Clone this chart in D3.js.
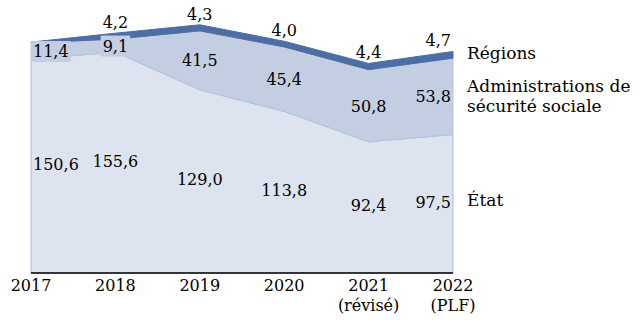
<!DOCTYPE html>
<html>
<head>
<meta charset="utf-8">
<script src="https://cdn.jsdelivr.net/npm/d3@7"></script>
<style>
  body { margin: 0; background: #fff; }
  text { font-family: "DejaVu Serif", serif; fill: #000; }
</style>
</head>
<body>
<svg width="642" height="329"></svg>
<script>
// data
var years = ["2017", "2018", "2019", "2020", "2021", "2022"];
var yearSub = ["", "", "", "", "(révisé)", "(PLF)"];
var etat = [150.6, 155.6, 129.0, 113.8, 92.4, 97.5];
var secu = [11.4, 9.1, 41.5, 45.4, 50.8, 53.8];
var regions = [0.6, 4.2, 4.3, 4.0, 4.4, 4.7];
var regionLabels = [null, "4,2", "4,3", "4,0", "4,4", "4,7"];
var seriesNames = ["État", "Administrations de|sécurité sociale", "Régions"];

var svg = d3.select("svg"),
    width = +svg.attr("width"),
    height = +svg.attr("height");

var colors = ["#dde4ef", "#c4cee2", "#4d6da4"];
var strokes = ["#a9badb", "#b3c2dd", "#4d6da4"];

// scales
var x = d3.scalePoint().domain(years).range([31, 453]);
var y = d3.scaleLinear().domain([0, 180]).range([273, 17.4]);

// stack
var table = years.map(function(d, i) {
  return {year: d, etat: etat[i], secu: secu[i], regions: regions[i]};
});
var keys = ["etat", "secu", "regions"];
var stacked = d3.stack().keys(keys)(table);

var area = d3.area()
    .x(function(d) { return x(d.data.year); })
    .y0(function(d) { return y(d[0]); })
    .y1(function(d) { return y(d[1]); });

svg.append("g").selectAll("path")
    .data(stacked)
  .enter().append("path")
    .attr("d", area)
    .attr("fill", function(d, i) { return colors[i]; })
    .attr("stroke", function(d, i) { return strokes[i]; })
    .attr("stroke-width", 1);

// axis line
svg.append("line")
  .attr("x1", x(years[0])).attr("x2", x(years[years.length - 1]))
  .attr("y1", y(0)).attr("y2", y(0))
  .attr("stroke", "#000").attr("stroke-width", 1.3);

// year labels
var xl = svg.append("g");
years.forEach(function(d, i) {
  xl.append("text").attr("x", x(d)).attr("y", 291)
    .attr("text-anchor", "middle").style("font-size", "16px").text(d);
  if (yearSub[i]) {
    xl.append("text").attr("x", x(d)).attr("y", 311)
      .attr("text-anchor", "middle").style("font-size", "16px").text(yearSub[i]);
  }
});

function fmt(v) { return v.toFixed(1).replace(".", ","); }

// value labels, kept inside the plot edges
var lab = svg.append("g");
function add_label(xv, cy, txt, bg) {
  var t = lab.append("text")
    .attr("y", cy + 6)
    .attr("text-anchor", "middle")
    .style("font-size", "16px")
    .text(txt);
  var w = t.node().getComputedTextLength();
  var lo = x(years[0]) + w / 2 + 2, hi = x(years[years.length - 1]) - w / 2 - 2;
  var cx = Math.max(lo, Math.min(hi, xv));
  t.attr("x", cx);
  if (bg) {
    lab.insert("rect", function() { return t.node(); })
      .attr("x", cx - w / 2 - 2).attr("y", cy - 10)
      .attr("width", w + 4).attr("height", 21)
      .attr("fill", bg);
  }
}

years.forEach(function(d, i) {
  var s0 = stacked[0][i], s1 = stacked[1][i], s2 = stacked[2][i];
  add_label(x(d), (y(s0[0]) + y(s0[1])) / 2 - 2, fmt(etat[i]), null);
  add_label(x(d), (y(s1[0]) + y(s1[1])) / 2, fmt(secu[i]), colors[1]);
  if (regionLabels[i]) add_label(x(d), y(s2[1]) - 11, regionLabels[i], null);
});

// legend at right edge
var lg = svg.append("g").style("font-size", "17px");
lg.append("text").attr("x", 467).attr("y", 59).text("Régions");
lg.append("text").attr("x", 467).attr("y", 92).text("Administrations de");
lg.append("text").attr("x", 467).attr("y", 112).text("sécurité sociale");
lg.append("text").attr("x", 467).attr("y", 206).text("État");
</script>
</body>
</html>
